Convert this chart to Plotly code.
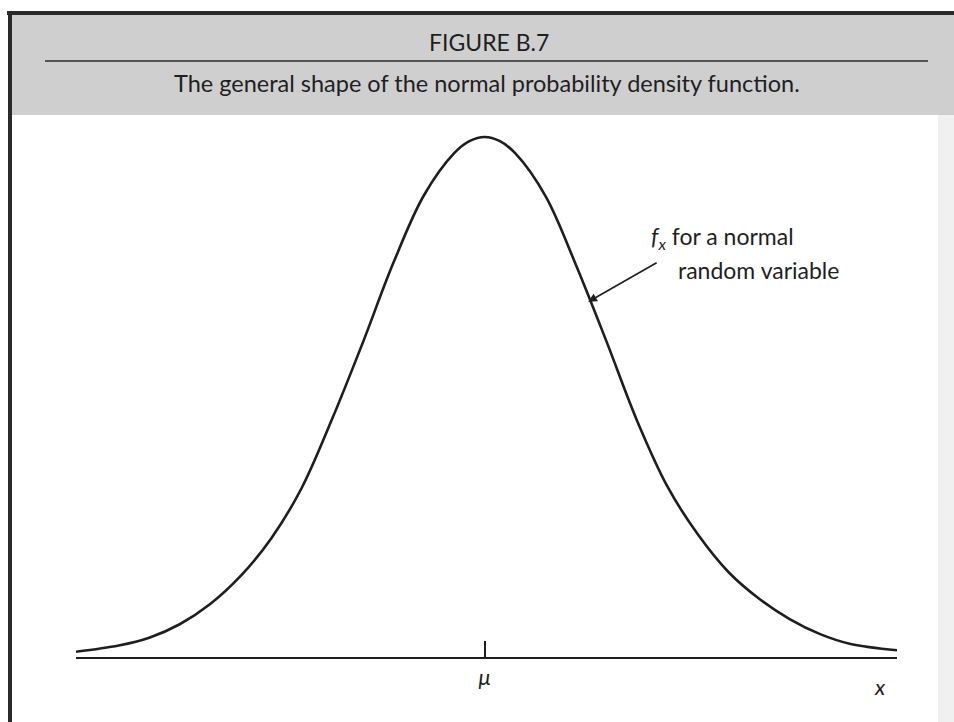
import plotly.graph_objects as go

# Curve heights read along the axis, x in standard deviations from the mean,
# heights relative to the peak.
x_sd = [-3.35, -3.0, -2.75, -2.5, -2.25, -2.0, -1.75, -1.5, -1.25, -1.0, -0.75, -0.5, -0.25, -0.125,
        0.0, 0.125, 0.25, 0.5, 0.75, 1.0, 1.25, 1.5, 1.75, 2.0, 2.25, 2.5, 2.75, 3.0, 3.38]
density = [0.010, 0.022, 0.037, 0.063, 0.102, 0.156, 0.228, 0.325, 0.458, 0.604, 0.757, 0.887, 0.969, 0.992,
           1.000, 0.992, 0.969, 0.886, 0.753, 0.606, 0.454, 0.327, 0.235, 0.163, 0.112, 0.073, 0.044, 0.025, 0.013]

tick_vals = [0.0]
tick_text = ["<i>μ</i>"]

title_text = "FIGURE B.7"
subtitle_text = "The general shape of the normal probability density function."
curve_label_1 = "<i>f</i><sub><i>x</i></sub> for a normal"
curve_label_2 = "random variable"
axis_label = "<i>x</i>"

W, H = 954, 722
FONT = "Lato"
INK = "#1e1e1e"
TEXT = "#1f1f1f"


def px(x):
    return x / W


def py(y):
    return 1 - y / H


fig = go.Figure()

fig.add_trace(go.Scatter(
    x=x_sd, y=density, mode="lines",
    line=dict(color=INK, width=2.6, shape="spline", smoothing=1.0),
    hoverinfo="skip", showlegend=False, cliponaxis=False,
))

shapes = [
    # header band
    dict(type="rect", xref="paper", yref="paper", x0=px(12), x1=px(954), y0=py(115), y1=py(15),
         fillcolor="#cfcfcf", line=dict(width=0), layer="below"),
    # rule between title and caption
    dict(type="line", xref="paper", yref="paper", x0=px(45), x1=px(928), y0=py(61), y1=py(61),
         line=dict(color="#555555", width=2)),
    # frame: top and left edges
    dict(type="line", xref="paper", yref="paper", x0=px(7), x1=px(954), y0=py(13), y1=py(13),
         line=dict(color="#2a2a2a", width=4)),
    dict(type="line", xref="paper", yref="paper", x0=px(10), x1=px(10), y0=py(11), y1=py(722),
         line=dict(color="#2a2a2a", width=4)),
    # faint shading along the right page edge
    dict(type="rect", xref="paper", yref="paper", x0=px(938), x1=px(954), y0=py(722), y1=py(115),
         fillcolor="rgba(0,0,0,0.06)", line=dict(width=0), layer="below"),
]

annotations = [
    dict(text=title_text, xref="paper", yref="paper", x=px(489), y=py(42),
         showarrow=False, font=dict(family=FONT, size=23, color=TEXT),
         xanchor="center", yanchor="middle"),
    dict(text=subtitle_text, xref="paper", yref="paper", x=px(487), y=py(83),
         showarrow=False, font=dict(family=FONT, size=23.5, color=TEXT),
         xanchor="center", yanchor="middle"),
    # arrow pointing at the curve
    dict(text="", x=0.848, y=0.683, xref="x", yref="y", showarrow=True,
         ax=70, ay=-40, arrowhead=2, arrowsize=1.1, arrowwidth=1.6, arrowcolor=INK),
    dict(text=curve_label_1, xref="paper", yref="paper", x=px(649), y=py(238),
         showarrow=False, font=dict(family=FONT, size=23, color=TEXT),
         xanchor="left", yanchor="middle"),
    dict(text=curve_label_2, xref="paper", yref="paper", x=px(676), y=py(270),
         showarrow=False, font=dict(family=FONT, size=23, color=TEXT),
         xanchor="left", yanchor="middle"),
    dict(text=axis_label, xref="x", yref="paper", x=3.24, y=py(686),
         showarrow=False, font=dict(family=FONT, size=22, color=TEXT),
         xanchor="center", yanchor="middle"),
]

fig.update_layout(
    width=W, height=H,
    margin=dict(l=0, r=0, t=0, b=0),
    paper_bgcolor="white", plot_bgcolor="rgba(0,0,0,0)",
    shapes=shapes, annotations=annotations,
    xaxis=dict(domain=[px(76), px(897)], range=[-3.35, 3.38],
               showline=True, linecolor=INK, linewidth=2,
               ticks="inside", ticklen=16, tickwidth=1.5, tickcolor=INK,
               tickvals=tick_vals, ticktext=tick_text,
               tickfont=dict(family=FONT, size=22, color=TEXT),
               showgrid=False, zeroline=False, fixedrange=True),
    yaxis=dict(domain=[py(657), py(111)], range=[0, 1.05],
               visible=False, showgrid=False, zeroline=False, fixedrange=True),
)

fig.write_html("out.html")
